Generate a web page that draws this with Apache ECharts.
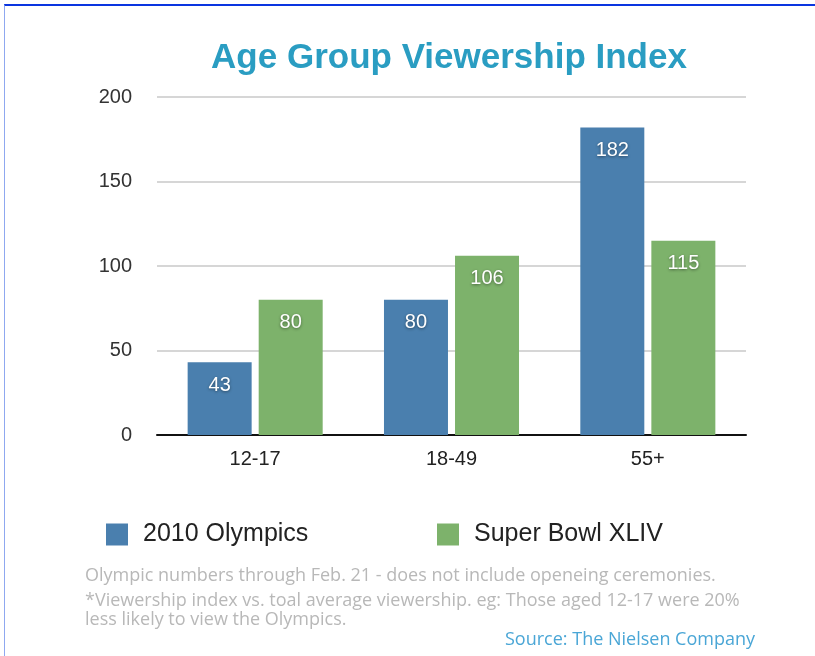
<!DOCTYPE html>
<html><head><meta charset="utf-8">
<script src="https://cdn.jsdelivr.net/npm/echarts@6/dist/echarts.min.js"></script>
<style>
html,body{margin:0;padding:0;background:#fff;}
#c{width:815px;height:656px;position:relative;}
#frame{position:absolute;left:4px;top:4px;right:0;bottom:0;border-top:2px solid #0a35e0;border-left:1px solid #8fa8f0;pointer-events:none;}
</style></head>
<body>
<div id="c"></div>
<div id="frame"></div>
<script>
var categories = ['12-17', '18-49', '55+'];
var olympics = [43, 80, 182];
var superBowl = [80, 106, 115];
var yTicks = [0, 50, 100, 150, 200];
var seriesNames = ['2010 Olympics', 'Super Bowl XLIV'];

var FONT = 'Liberation Sans, Arial, sans-serif';
var chart = echarts.init(document.getElementById('c'), null, {renderer: 'canvas'});
var labelCfg = {
  show: true, position: 'insideTop', distance: 13,
  color: '#fff', fontSize: 20, fontFamily: FONT,
  textShadowColor: 'rgba(0,0,0,0.45)', textShadowBlur: 3, textShadowOffsetY: 1
};
var legendText = {fontSize: 25, color: '#222', fontFamily: FONT, padding: [0, 0, 0, 10]};
chart.setOption({
  animation: false,
  title: {
    text: 'Age Group Viewership Index', left: 444, top: 36, textAlign: 'center',
    textStyle: {color: '#2a9dc2', fontSize: 35, fontWeight: 'bold', fontFamily: FONT}
  },
  grid: {left: 157, right: 69, top: 97, bottom: 221, containLabel: false},
  legend: [
    {data: [seriesNames[0]], left: 101, top: 517, itemWidth: 22, itemHeight: 22, icon: 'rect', textStyle: legendText},
    {data: [seriesNames[1]], left: 432, top: 517, itemWidth: 22, itemHeight: 22, icon: 'rect', textStyle: legendText}
  ],
  xAxis: {
    type: 'category', data: categories,
    axisLine: {lineStyle: {color: '#111', width: 2}},
    axisTick: {show: false},
    axisLabel: {fontSize: 20, color: '#222', margin: 14, fontFamily: FONT}
  },
  yAxis: {
    type: 'value', min: yTicks[0], max: yTicks[yTicks.length-1], interval: 50,
    axisLine: {show: false}, axisTick: {show: false},
    axisLabel: {fontSize: 20, color: '#333', margin: 25, fontFamily: FONT},
    splitLine: {lineStyle: {color: '#c8c8c8', width: 1.5}}
  },
  series: [
    {name: seriesNames[0], type: 'bar', data: olympics, barWidth: 64, barGap: '11%',
     itemStyle: {color: '#4a7fae'}, label: labelCfg},
    {name: seriesNames[1], type: 'bar', data: superBowl, barWidth: 64,
     itemStyle: {color: '#7db26b'}, label: labelCfg}
  ],
  graphic: [
    {type: 'text', left: 85, top: 567, style: {text: 'Olympic numbers through Feb. 21 - does not include openeing ceremonies.', fill: '#b8b8b8', font: '18px "Open Sans", sans-serif'}},
    {type: 'text', left: 85, top: 592, style: {text: '*Viewership index vs. toal average viewership. eg: Those aged 12-17 were 20%', fill: '#b8b8b8', font: '18px "Open Sans", sans-serif'}},
    {type: 'text', left: 85, top: 611, style: {text: 'less likely to view the Olympics.', fill: '#b8b8b8', font: '18px "Open Sans", sans-serif'}},
    {type: 'text', right: 60, top: 631, style: {text: 'Source: The Nielsen Company', fill: '#4aa6d6', font: '18px "Open Sans", sans-serif'}}
  ]
});
</script>
</body></html>
